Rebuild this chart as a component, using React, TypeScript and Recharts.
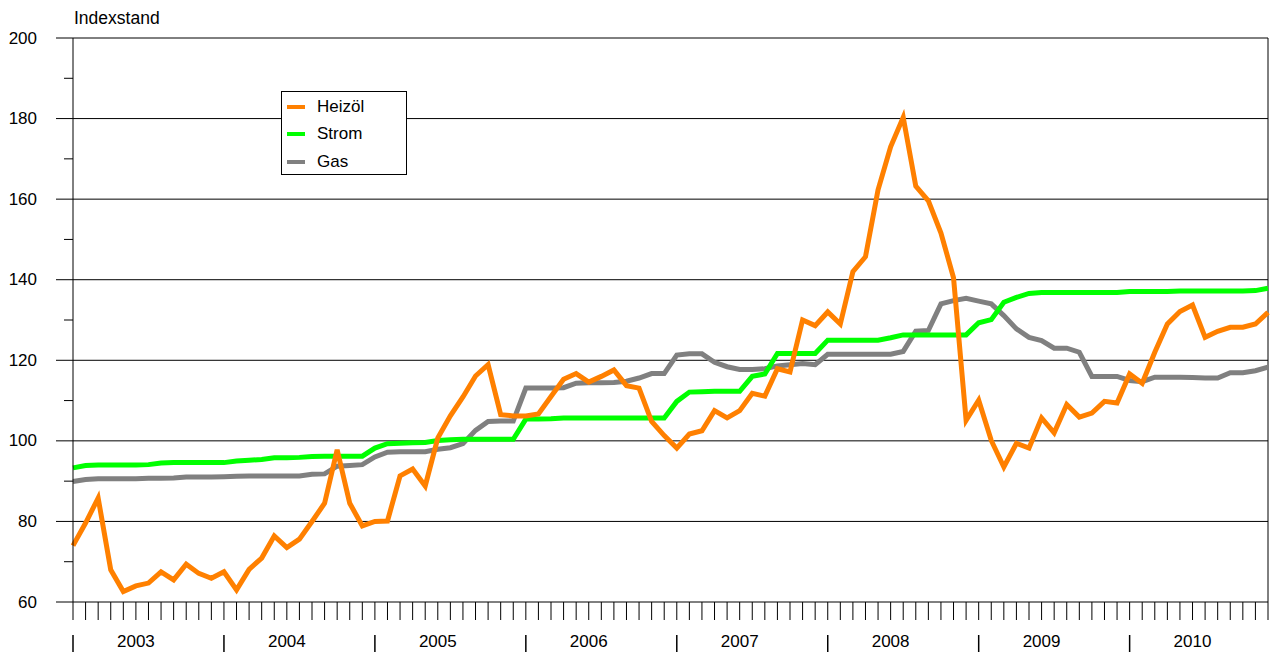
import { LineChart, Line, XAxis, YAxis, CartesianGrid } from 'recharts'

// Monthly index values 2003-2010 (Jan..Dec per row)
const YEARS = ['2003', '2004', '2005', '2006', '2007', '2008', '2009', '2010']

const HEIZOEL = [
  74, 79.6, 85.8, 68, 62.6, 64, 64.7, 67.5, 65.5, 69.4, 67.1, 65.9,
  67.5, 63, 68.1, 70.9, 76.4, 73.5, 75.6, 80, 84.5, 97.8, 84.5, 78.9,
  80, 80.1, 91.3, 93, 88.8, 100.7, 106.2, 110.9, 116.1, 118.9, 106.5, 106.2,
  106.2, 106.7, 111, 115.3, 116.7, 114.6, 116, 117.6, 113.7, 113.1, 104.8, 101.3,
  98.2, 101.7, 102.5, 107.5, 105.7, 107.5, 111.8, 111.1, 117.9, 117.1, 130, 128.6,
  132, 129, 142, 145.7, 162.3, 173, 180.3, 163.2, 159.6, 151.6, 140.5, 105.1,
  110.1, 100.1, 93.5, 99.4, 98.2, 105.7, 102, 109, 105.9, 106.9, 109.8, 109.4,
  116.6, 114.3, 122, 129, 132.1, 133.7, 125.7, 127.2, 128.2, 128.2, 129, 131.9,
]

const STROM = [
  93.3, 93.9, 94, 94, 94, 94, 94.1, 94.5, 94.6, 94.6, 94.6, 94.6,
  94.6, 95, 95.2, 95.4, 95.8, 95.8, 95.9, 96.1, 96.2, 96.2, 96.2, 96.2,
  98.2, 99.3, 99.4, 99.5, 99.6, 100.1, 100.3, 100.4, 100.4, 100.4, 100.4, 100.4,
  105.4, 105.4, 105.5, 105.7, 105.7, 105.7, 105.7, 105.7, 105.7, 105.7, 105.7, 105.7,
  109.8, 112.1, 112.2, 112.3, 112.3, 112.3, 116, 116.6, 121.7, 121.7, 121.7, 121.7,
  125, 125, 125, 125, 125, 125.6, 126.3, 126.3, 126.3, 126.3, 126.3, 126.3,
  129.3, 130.1, 134.4, 135.6, 136.6, 136.8, 136.8, 136.8, 136.8, 136.8, 136.8, 136.8,
  137.1, 137.1, 137.1, 137.1, 137.2, 137.2, 137.2, 137.2, 137.2, 137.2, 137.3, 137.9,
]

const GAS = [
  89.9, 90.4, 90.6, 90.6, 90.6, 90.6, 90.7, 90.7, 90.8, 91, 91, 91,
  91.1, 91.2, 91.3, 91.3, 91.3, 91.3, 91.3, 91.7, 91.8, 93.7, 93.9, 94.1,
  96, 97.2, 97.3, 97.3, 97.3, 97.9, 98.3, 99.3, 102.6, 104.8, 104.9, 104.9,
  113.1, 113.1, 113.1, 113.2, 114.3, 114.4, 114.4, 114.5, 114.8, 115.6, 116.7, 116.7,
  121.3, 121.6, 121.6, 119.5, 118.4, 117.7, 117.7, 117.9, 118.6, 118.9, 119.2, 118.9,
  121.5, 121.5, 121.5, 121.5, 121.5, 121.5, 122.2, 127.2, 127.4, 134, 134.8, 135.4,
  134.7, 134, 131.1, 127.8, 125.7, 124.9, 123, 123, 122, 116, 116, 116,
  115, 114.7, 115.8, 115.8, 115.8, 115.7, 115.6, 115.6, 116.9, 116.9, 117.4, 118.3,
]

const Y_TICKS = [60, 70, 80, 90, 100, 110, 120, 130, 140, 150, 160, 170, 180, 190, 200]
const GRID_VALUES = [80, 100, 120, 140, 160, 180, 200]

const SERIES = [
  { key: 'heizoel', name: 'Heizöl', color: '#ff8000' },
  { key: 'strom', name: 'Strom', color: '#00ff00' },
  { key: 'gas', name: 'Gas', color: '#808080' },
]

const FONT = '"Liberation Sans", Arial, sans-serif'

const data = HEIZOEL.map((v, i) => ({
  i,
  heizoel: v,
  strom: STROM[i],
  gas: GAS[i],
}))

const MONTH_TICKS = data.map((d) => d.i)

function YTick({ x, y, payload }: any) {
  const major = payload.value % 20 === 0
  if (!major) {
    return <line x1={x - 9} x2={x} y1={y} y2={y} stroke="#000" />
  }
  return (
    <g>
      <line x1={x - 17} x2={x} y1={y} y2={y} stroke="#000" />
      <text
        x={x - 36}
        y={y}
        textAnchor="end"
        dominantBaseline="central"
        fontSize={17}
        fontFamily={FONT}
        fill="#000"
      >
        {payload.value}
      </text>
    </g>
  )
}

function XTick({ x, y, payload }: any) {
  const m = payload.value
  return (
    <g>
      <line x1={x} x2={x} y1={y} y2={y + 18} stroke="#000" />
      {m % 12 === 0 && (
        <line x1={x} x2={x} y1={y + 33} y2={y + 50} stroke="#000" strokeWidth={1.5} />
      )}
      {m % 12 === 5 && (
        <text
          x={x}
          y={y + 45}
          textAnchor="middle"
          fontSize={17}
          fontFamily={FONT}
          fill="#000"
        >
          {YEARS[Math.floor(m / 12)]}
        </text>
      )}
    </g>
  )
}

// legend drawn as an overlay so it doesn't eat into the plot area
function LegendBox() {
  return (
    <div
      style={{
        position: 'absolute',
        left: 281,
        top: 91,
        width: 124,
        height: 81,
        border: '1px solid #000',
        background: '#fff',
        paddingTop: 1,
        fontSize: 17,
        zIndex: 2,
      }}
    >
      {SERIES.map((s) => (
        <div
          key={s.key}
          style={{ display: 'flex', alignItems: 'center', height: 27.5 }}
        >
          <span
            style={{
              display: 'inline-block',
              width: 18,
              height: 4,
              marginLeft: 5,
              background: s.color,
            }}
          />
          <span style={{ marginLeft: 12 }}>{s.name}</span>
        </div>
      ))}
    </div>
  )
}

export default function App() {
  return (
    <div
      style={{
        position: 'absolute',
        left: 0,
        top: 0,
        width: 1273,
        height: 652,
        background: '#fff',
        fontFamily: FONT,
      }}
    >
      <div
        style={{
          position: 'absolute',
          left: 74,
          top: 10,
          fontSize: 17.5,
          lineHeight: '17px',
          zIndex: 2,
        }}
      >
        Indexstand
      </div>
      <LineChart
        width={1273}
        height={652}
        data={data}
        margin={{ top: 38, right: 5, bottom: 0, left: 0 }}
      >
        <CartesianGrid
          horizontalValues={GRID_VALUES}
          verticalValues={[95]}
          stroke="#000"
          strokeWidth={1}
        />
        <XAxis
          dataKey="i"
          type="number"
          domain={[0, 95]}
          ticks={MONTH_TICKS}
          interval={0}
          height={50}
          tickSize={0}
          tickMargin={0}
          tickLine={false}
          tick={<XTick />}
          axisLine={{ stroke: '#000' }}
        />
        <YAxis
          type="number"
          domain={[60, 200]}
          ticks={Y_TICKS}
          interval={0}
          width={73}
          tickSize={0}
          tickMargin={0}
          tickLine={false}
          tick={<YTick />}
          axisLine={{ stroke: '#000' }}
        />
        <Line
          type="linear"
          dataKey="gas"
          name="Gas"
          stroke="#808080"
          strokeWidth={5}
          dot={false}
          isAnimationActive={false}
        />
        <Line
          type="linear"
          dataKey="strom"
          name="Strom"
          stroke="#00ff00"
          strokeWidth={5}
          dot={false}
          isAnimationActive={false}
        />
        <Line
          type="linear"
          dataKey="heizoel"
          name="Heizöl"
          stroke="#ff8000"
          strokeWidth={5}
          dot={false}
          isAnimationActive={false}
        />
      </LineChart>
      <LegendBox />
    </div>
  )
}
